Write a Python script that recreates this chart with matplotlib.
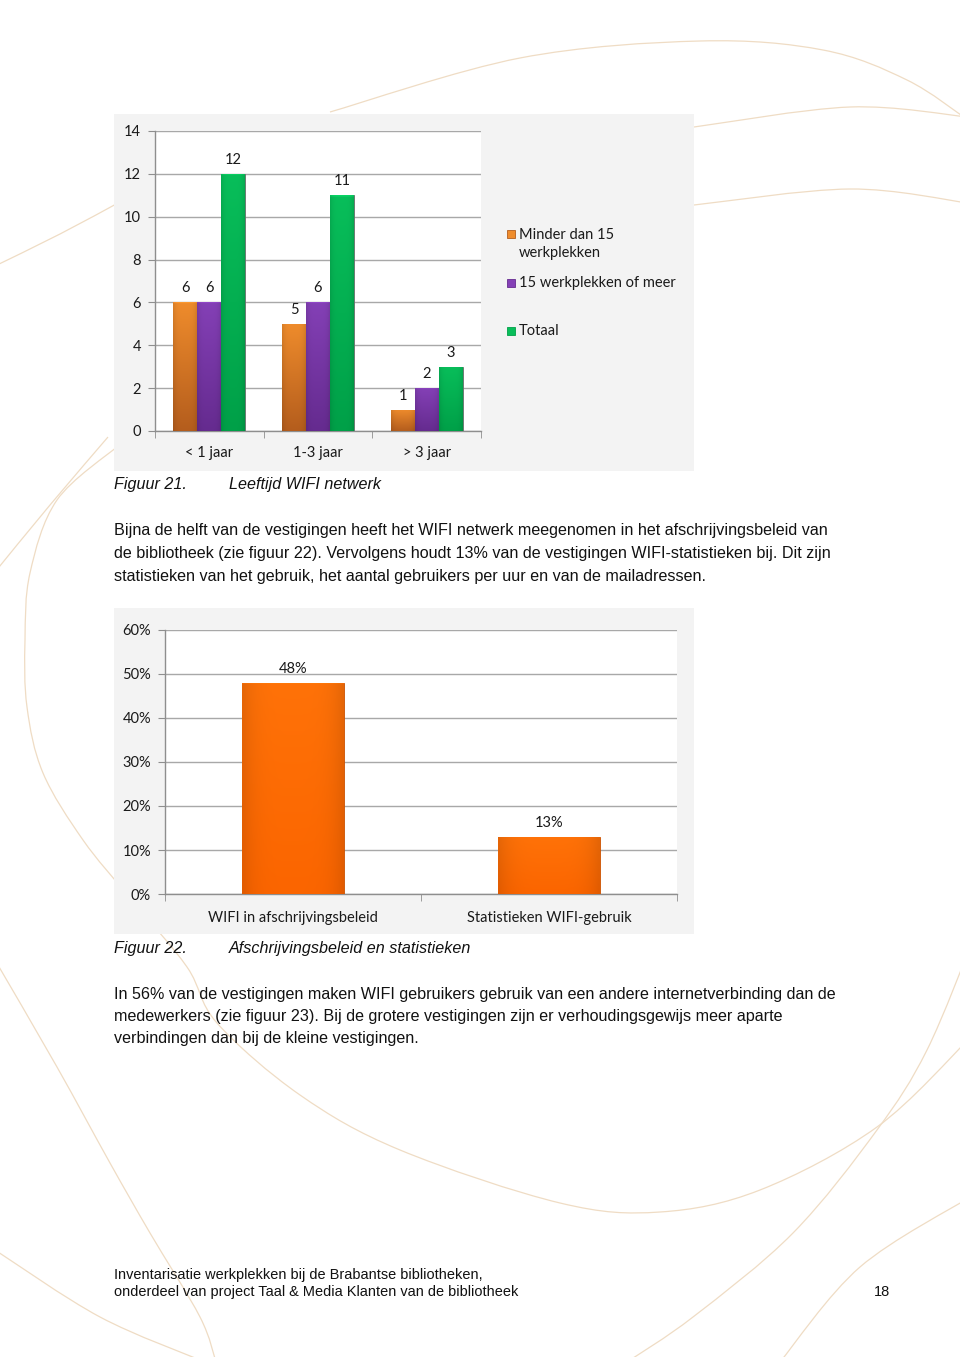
import numpy as np
import matplotlib
matplotlib.use("Agg")
import matplotlib.pyplot as plt
from matplotlib.colors import to_rgb
from matplotlib.path import Path
from matplotlib.patches import PathPatch, Rectangle
from matplotlib.ticker import PercentFormatter

# --- data: figuur 21 ---
age_groups = ["< 1 jaar", "1-3 jaar", "> 3 jaar"]
series_names = ["Minder dan 15\nwerkplekken", "15 werkplekken of meer", "Totaal"]
small_counts = [6, 5, 1]
large_counts = [6, 6, 2]
total_counts = [12, 11, 3]

# --- data: figuur 22 ---
policy_labels = ["WIFI in afschrijvingsbeleid", "Statistieken WIFI-gebruik"]
policy_share = [0.48, 0.13]

CHART_FONT = "Lato"
BODY_FONT = "Liberation Sans"
W, H = 960, 1357

# (top colour, bottom colour) for the bevelled Excel look
series_colors = [("#ef8c2c", "#b45d1d"), ("#8440b6", "#652b8f"), ("#08be5a", "#00a048")]
policy_color = ("#ff7208", "#fb6500")


def shade(ax, bars, top, bottom, edge):
    """Paint a vertical gradient inside every bar, clipped to the bar."""
    t = np.array(to_rgb(top))
    b = np.array(to_rgb(bottom))
    rows = np.linspace(0, 1, 300)[:, None, None]
    cols = np.linspace(-1, 1, 40)[None, :, None]
    img = (1 - rows) * t + rows * b
    img = img * (1 - 0.10 * cols ** 4)
    img[:2] = np.clip(img[:2] * 1.12, 0, 1)  # thin light rim on top
    for bar in bars:
        x0, y0, w, h = bar.get_x(), bar.get_y(), bar.get_width(), bar.get_height()
        im = ax.imshow(np.clip(img, 0, 1), extent=(x0, x0 + w, y0, y0 + h),
                       origin="upper", aspect="auto", zorder=bar.get_zorder(),
                       interpolation="bilinear")
        im.set_clip_path(bar)
        bar.set_edgecolor(edge)
        bar.set_linewidth(0.6)


def style_axes(ax, fs, xpad):
    ax.set_facecolor("white")
    for s in ("top", "right"):
        ax.spines[s].set_visible(False)
    for s in ("left", "bottom"):
        ax.spines[s].set_color("#8e8e8e")
        ax.spines[s].set_linewidth(1.0)
    ax.yaxis.grid(True, color="#a8a8a8", lw=1.0)
    ax.set_axisbelow(True)
    ax.tick_params(axis="y", length=5, color="#8e8e8e", pad=5, labelsize=fs,
                   labelcolor="#1a1a1a")
    ax.tick_params(axis="x", which="major", length=0, pad=xpad, labelsize=fs,
                   labelcolor="#1a1a1a")
    ax.tick_params(axis="x", which="minor", length=5, color="#8e8e8e")
    for lab in ax.get_xticklabels() + ax.get_yticklabels():
        lab.set_family(CHART_FONT)


def smooth_path(pts):
    """Catmull-Rom points -> cubic Bezier path (decorative background lines)."""
    p = np.array(pts, float)
    p = np.vstack([p[0], p, p[-1]])
    verts = [tuple(p[1])]
    codes = [Path.MOVETO]
    for i in range(1, len(p) - 2):
        c1 = p[i] + (p[i + 1] - p[i - 1]) / 6
        c2 = p[i + 1] - (p[i + 2] - p[i]) / 6
        verts += [tuple(c1), tuple(c2), tuple(p[i + 1])]
        codes += [Path.CURVE4] * 3
    return Path(verts, codes)


fig = plt.figure(figsize=(W / 100, H / 100), dpi=100)
fig.patch.set_facecolor("white")

# page layer in pixel coordinates
bg = fig.add_axes([0, 0, 1, 1], zorder=0)
bg.set_xlim(0, W)
bg.set_ylim(H, 0)
bg.axis("off")

swooshes = [
    [(330, 112), (520, 58), (700, 41), (823, 50), (907, 80), (968, 120)],
    [(694, 127), (850, 107), (968, 117)],
    [(694, 205), (850, 189), (968, 203)],
    [(-5, 266), (60, 234), (118, 203)],
    [(-5, 572), (50, 505), (108, 437)],
    [(118, 446), (57, 500), (30, 573), (25, 640), (27, 707), (43, 773),
     (83, 840), (130, 898), (187, 967), (217, 1023), (300, 1095), (400, 1150),
     (560, 1203), (660, 1212), (760, 1190), (877, 1127), (968, 1040)],
    [(975, 935), (927, 1050), (877, 1130), (793, 1233), (693, 1317), (627, 1362)],
    [(972, 1196), (860, 1267), (780, 1362)],
    [(-5, 960), (57, 1067), (110, 1163), (150, 1233), (200, 1317), (216, 1362)],
    [(-5, 1250), (100, 1317), (205, 1362)],
]
for pts in swooshes:
    bg.add_patch(PathPatch(smooth_path(pts), fill=False, edgecolor="#efdcc4",
                           lw=0.9, zorder=1))

# grey chart panels
bg.add_patch(Rectangle((114, 114), 580, 357, facecolor="#f3f3f3", edgecolor="none", zorder=2))
bg.add_patch(Rectangle((114, 608), 580, 326, facecolor="#f3f3f3", edgecolor="none", zorder=2))

# ---------------- Figuur 21 ----------------
fs = 10.5
ax1 = fig.add_axes([155 / W, 1 - 431 / H, 326 / W, 300 / H], zorder=3)
x = np.arange(len(age_groups))
bw = 0.22
for k, vals in enumerate([small_counts, large_counts, total_counts]):
    bars = ax1.bar(x + (k - 1) * bw, vals, bw, color=series_colors[k][0], zorder=3)
    shade(ax1, bars, series_colors[k][0], series_colors[k][1], "#6b6b6b")
    ax1.bar_label(bars, padding=5, fontsize=fs, family=CHART_FONT, color="#1a1a1a")
ax1.set_xlim(-0.5, len(age_groups) - 0.5)
ax1.set_ylim(0, 14)
ax1.set_yticks(range(0, 15, 2))
ax1.set_xticks(x, age_groups)
ax1.set_xticks(np.arange(-0.5, len(age_groups)), minor=True)
style_axes(ax1, fs, 11)

# legend (Excel spaces the entries unevenly)
legend_y = [244, 283, 331]
for k, name in enumerate(series_names):
    yy = legend_y[k] - (10 if "\n" in name else 0)
    bg.add_patch(Rectangle((507, yy - 4), 8, 8, facecolor=series_colors[k][0],
                           edgecolor=series_colors[k][1], lw=0.6, zorder=4))
    bg.text(519, legend_y[k], name, fontsize=fs, family=CHART_FONT, color="#1a1a1a",
            va="center", ha="left", linespacing=1.38, zorder=4)

# ---------------- Figuur 22 ----------------
ax2 = fig.add_axes([165 / W, 1 - 894 / H, 512 / W, 264 / H], zorder=3)
x2 = np.arange(len(policy_labels))
bars2 = ax2.bar(x2, policy_share, 0.395, color=policy_color[0], zorder=3)
shade(ax2, bars2, policy_color[0], policy_color[1], "#c95000")
ax2.bar_label(bars2, labels=[f"{v:.0%}" for v in policy_share], padding=5,
              fontsize=fs, family=CHART_FONT, color="#1a1a1a")
ax2.set_xlim(-0.5, len(policy_labels) - 0.5)
ax2.set_ylim(0, 0.6)
ax2.set_yticks(np.arange(0, 0.61, 0.1))
ax2.yaxis.set_major_formatter(PercentFormatter(1.0, decimals=0))
ax2.set_xticks(x2, policy_labels)
ax2.set_xticks(np.arange(-0.5, len(policy_labels)), minor=True)
style_axes(ax2, fs, 12)

# ---------------- page text ----------------
body = dict(fontsize=11.6, family=BODY_FONT, color="#111111", va="center", ha="left", zorder=5)
cap = dict(body, style="italic")

bg.text(114, 485, "Figuur 21.", **cap)
bg.text(229, 485, "Leeftijd WIFI netwerk", **cap)

para1 = [
    "Bijna de helft van de vestigingen heeft het WIFI netwerk meegenomen in het afschrijvingsbeleid van",
    "de bibliotheek (zie figuur 22). Vervolgens houdt 13% van de vestigingen WIFI-statistieken bij. Dit zijn",
    "statistieken van het gebruik, het aantal gebruikers per uur en van de mailadressen.",
]
for i, line in enumerate(para1):
    bg.text(114, 531 + i * 22.5, line, **body)

bg.text(114, 948, "Figuur 22.", **cap)
bg.text(229, 948, "Afschrijvingsbeleid en statistieken", **cap)

para2 = [
    "In 56% van de vestigingen maken WIFI gebruikers gebruik van een andere internetverbinding dan de",
    "medewerkers (zie figuur 23). Bij de grotere vestigingen zijn er verhoudingsgewijs meer aparte",
    "verbindingen dan bij de kleine vestigingen.",
]
for i, line in enumerate(para2):
    bg.text(114, 994 + i * 22.5, line, **body)

foot = dict(body, fontsize=10.45)
bg.text(114, 1275, "Inventarisatie werkplekken bij de Brabantse bibliotheken,", **foot)
bg.text(114, 1292, "onderdeel van project Taal & Media Klanten van de bibliotheek", **foot)
bg.text(890, 1292, "18", **dict(foot, ha="right"))

fig.savefig("out.png", dpi=100)
